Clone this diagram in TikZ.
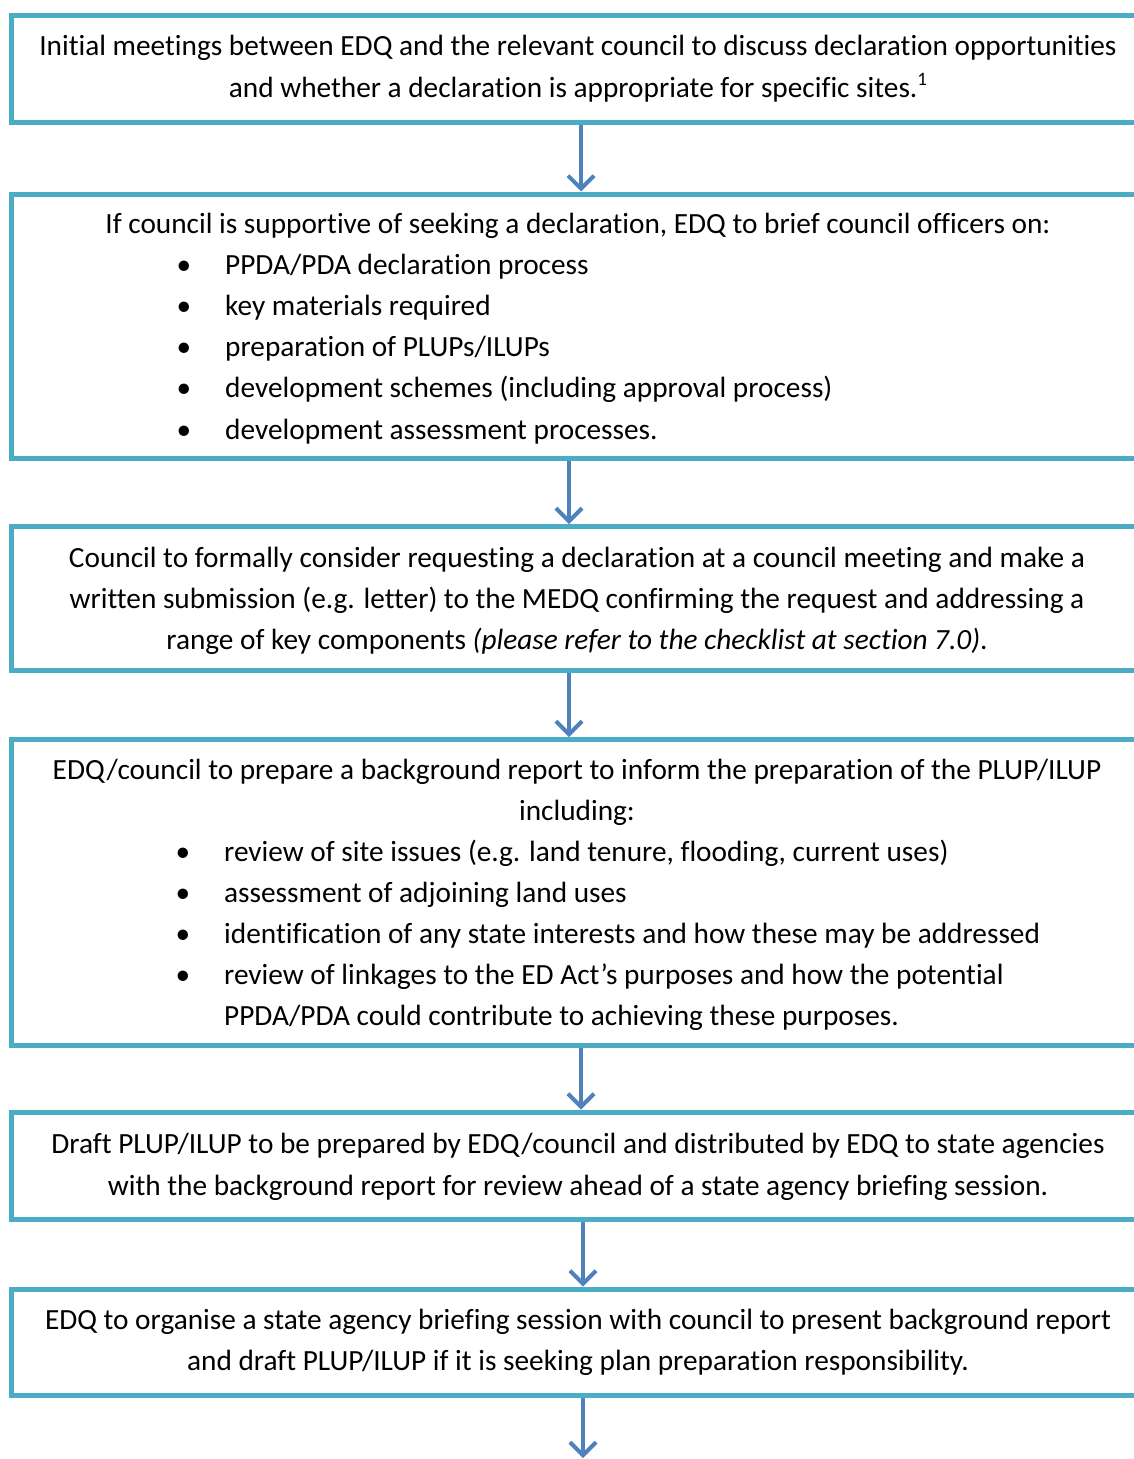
\documentclass[tikz,border=0pt]{standalone}
\usepackage{fontspec}
\setmainfont{Carlito}[Ligatures={NoCommon,NoRequired,NoContextual}]
\usetikzlibrary{arrows.meta}
\definecolor{boxc}{HTML}{4BACC6}
\definecolor{arrc}{HTML}{4F81BD}
\newcommand{\fs}{\fontsize{29.3}{41}\selectfont}
\tikzset{
  box/.style={draw=boxc, line width=5pt, rectangle, inner sep=0pt, outer sep=2.5pt, minimum width=1133.5pt},
  arr/.style={draw=arrc, line width=4pt, -{Straight Barb[length=13pt,width=26pt]}},
  txt/.style={inner sep=0pt, anchor=base, font=\fs},
  bul/.style={inner sep=0pt, anchor=base, font=\fs},
  itm/.style={inner sep=0pt, anchor=base west, font=\fs},
}
\begin{document}
\begin{tikzpicture}[x=1pt,y=-1pt]
\useasboundingbox (0,0) rectangle (1134,1459);
\begin{scope}
\clip (0,0) rectangle (1134,1459);
% boxes
\node[box, minimum height=107.5pt] (b1) at (578.25,68.75) {};
\node[box, minimum height=264pt] (b2) at (578.25,326) {};
\node[box, minimum height=143.5pt] (b3) at (578.25,598.25) {};
\node[box, minimum height=305.5pt] (b4) at (578.25,892.25) {};
\node[box, minimum height=107pt] (b5) at (578.25,1165.5) {};
\node[box, minimum height=106pt] (b6) at (578.25,1342) {};
\coordinate (end) at (583,1458);
% arrows
\draw[arr] (b1.south -| 581,0) -- (b2.north -| 581,0);
\draw[arr] (b2.south -| 569,0) -- (b3.north -| 569,0);
\draw[arr] (b3.south -| 569,0) -- (b4.north -| 569,0);
\draw[arr] (b4.south -| 581,0) -- (b5.north -| 581,0);
\draw[arr] (b5.south -| 583,0) -- (b6.north -| 583,0);
\draw[arr] (b6.south -| 583,0) -- (end);
\end{scope}
% box 1
\node[txt] (t1a) at (578,55.5) {Initial meetings between EDQ and the relevant council to discuss declaration opportunities};
\node[txt] (t1b) at (578,97) {and whether a declaration is appropriate for specific sites.{\fontsize{19}{19}\selectfont\raisebox{12pt}{1}}};
% box 2
\node[txt] (t2a) at (578,233) {If council is supportive of seeking a declaration, EDQ to brief council officers on:};
\node[bul] (u2a) at (184,274.5) {•};
\node[itm] (i2a) at (225,274.5) {PPDA/PDA declaration process};
\node[bul] (u2b) at (184,315.5) {•};
\node[itm] (i2b) at (225,315.5) {key materials required};
\node[bul] (u2c) at (184,356.5) {•};
\node[itm] (i2c) at (225,356.5) {preparation of PLUPs/ILUPs};
\node[bul] (u2d) at (184,397.5) {•};
\node[itm] (i2d) at (225,397.5) {development schemes (including approval process)};
\node[bul] (u2e) at (184,439) {•};
\node[itm] (i2e) at (225,439) {development assessment processes.};
% box 3
\node[txt] (t3a) at (577,567) {Council to formally consider requesting a declaration at a council meeting and make a};
\node[txt] (t3b) at (577,608) {written submission (e.g. letter) to the MEDQ confirming the request and addressing a};
\node[txt] (t3c) at (577,649) {range of key components \textit{(please refer to the checklist at section 7.0)}.};
% box 4
\node[txt] (t4a) at (577,779) {EDQ/council to prepare a background report to inform the preparation of the PLUP/ILUP};
\node[txt] (t4b) at (577,820) {including:};
\node[bul] (u4a) at (183,861.5) {•};
\node[itm] (i4a) at (224,861.5) {review of site issues (e.g. land tenure, flooding, current uses)};
\node[bul] (u4b) at (183,902.5) {•};
\node[itm] (i4b) at (224,902.5) {assessment of adjoining land uses};
\node[bul] (u4c) at (183,943.5) {•};
\node[itm] (i4c) at (224,943.5) {identification of any state interests and how these may be addressed};
\node[bul] (u4d) at (183,984.5) {•};
\node[itm] (i4d) at (224,984.5) {review of linkages to the ED Act’s purposes and how the potential};
\node[itm] (i4e) at (224,1025.5) {PPDA/PDA could contribute to achieving these purposes.};
% box 5
\node[txt] (t5a) at (578,1153) {Draft PLUP/ILUP to be prepared by EDQ/council and distributed by EDQ to state agencies};
\node[txt] (t5b) at (578,1195) {with the background report for review ahead of a state agency briefing session.};
% box 6
\node[txt] (t6a) at (578,1329) {EDQ to organise a state agency briefing session with council to present background report};
\node[txt] (t6b) at (578,1370) {and draft PLUP/ILUP if it is seeking plan preparation responsibility.};
\end{tikzpicture}
\end{document}
